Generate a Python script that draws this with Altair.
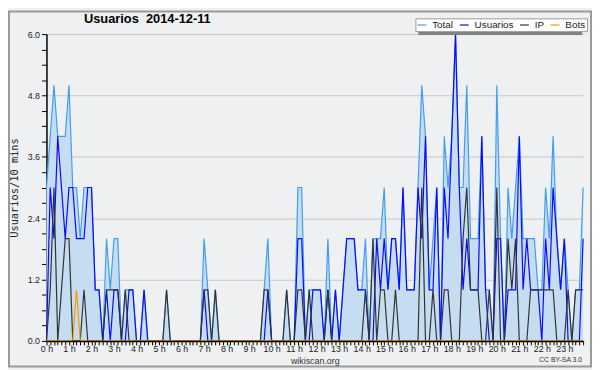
import altair as alt
import pandas as pd

# values per 10-minute slot (144 slots, 0 h .. 23:50)
total = [3, 4, 5, 4, 4, 4, 5, 3, 3, 2,
         3, 3, 3, 1, 1, 0, 2, 1, 2, 2,
         0, 1, 1, 1, 0, 0, 1, 0, 0, 0,
         0, 0, 1, 0, 0, 0, 0, 0, 0, 0,
         0, 0, 2, 1, 0, 1, 0, 0, 0, 0,
         0, 0, 0, 0, 0, 0, 0, 0, 1, 2,
         0, 0, 0, 0, 1, 0, 0, 3, 3, 0,
         1, 1, 1, 1, 0, 2, 0, 1, 0, 1,
         2, 2, 2, 1, 1, 2, 0, 2, 2, 2,
         3, 1, 2, 2, 1, 3, 1, 1, 1, 3,
         5, 4, 1, 2, 3, 0, 4, 3, 4, 6,
         3, 3, 5, 2, 2, 2, 4, 1, 1, 0,
         5, 2, 0, 3, 2, 3, 4, 2, 2, 2,
         2, 1, 1, 3, 2, 4, 2, 1, 2, 1,
         0, 1, 1, 3]
usuarios = [0, 3, 2, 4, 3, 2, 3, 3, 2, 2,
            2, 3, 3, 1, 1, 0, 1, 0, 1, 1,
            0, 0, 1, 1, 0, 0, 1, 0, 0, 0,
            0, 0, 0, 0, 0, 0, 0, 0, 0, 0,
            0, 0, 1, 0, 0, 0, 0, 0, 0, 0,
            0, 0, 0, 0, 0, 0, 0, 0, 0, 1,
            0, 0, 0, 0, 0, 0, 0, 2, 2, 0,
            0, 1, 1, 1, 0, 1, 0, 1, 0, 1,
            2, 2, 2, 1, 1, 1, 0, 0, 2, 1,
            2, 1, 2, 2, 1, 3, 1, 1, 1, 3,
            2, 4, 1, 1, 3, 0, 3, 2, 4, 6,
            3, 1, 2, 1, 1, 1, 4, 1, 0, 0,
            2, 2, 0, 1, 1, 1, 4, 1, 2, 1,
            1, 1, 0, 2, 1, 3, 2, 1, 2, 0,
            0, 0, 0, 2]
ip = [0, 1, 3, 0, 1, 2, 2, 0, 0, 0,
      1, 0, 0, 0, 0, 0, 1, 1, 1, 1,
      0, 1, 0, 0, 0, 0, 0, 0, 0, 0,
      0, 0, 1, 0, 0, 0, 0, 0, 0, 0,
      0, 0, 1, 1, 0, 1, 0, 0, 0, 0,
      0, 0, 0, 0, 0, 0, 0, 0, 1, 1,
      0, 0, 0, 0, 1, 0, 0, 1, 1, 0,
      1, 0, 0, 0, 0, 1, 0, 0, 0, 0,
      0, 0, 0, 0, 0, 1, 0, 2, 0, 1,
      1, 0, 0, 1, 0, 0, 0, 0, 0, 0,
      3, 0, 0, 1, 0, 0, 1, 1, 0, 0,
      0, 2, 3, 1, 1, 1, 0, 0, 1, 0,
      3, 0, 0, 2, 1, 2, 0, 0, 0, 1,
      1, 1, 1, 1, 1, 1, 0, 0, 0, 1,
      0, 1, 1, 1]
bots = [0] * 8 + [1] + [0] * 135

series_names = ["Total", "Usuarios", "IP", "Bots"]
series_colors = ["#3f9ef2", "#0a0aff", "#333333", "#ff9900"]
area_fill = "#c6dcf0"
chart_title = "Usuarios \u00a02014-12-11"

N = len(total)
slot_hours = [i / 6 for i in range(N)]
df = pd.DataFrame({"h": slot_hours, "Total": total, "Usuarios": usuarios,
                   "IP": ip, "Bots": bots})
one = pd.DataFrame({"k": [0]})

W, H = 544, 311
FONT = "Liberation Sans"

xs = alt.Scale(domain=[0, (N - 1) / 6], nice=False, zero=False)
ys = alt.Scale(domain=[0, 6], nice=False)
cs = alt.Scale(domain=series_names, range=series_colors)

x_axis = alt.Axis(
    values=slot_hours,
    labelExpr="abs(datum.value - round(datum.value)) < 0.01 ? round(datum.value) + ' h' : ''",
    labelOverlap=False, labelFlush=False, labelBound=False,
    tickSize=4, tickColor="#000000", tickWidth=1,
    domainColor="#000000", domainWidth=1.5, zindex=1,
    labelFont=FONT, labelFontSize=9, labelColor="#222222", labelPadding=0,
    grid=False, title="wikiscan.org", titleFont=FONT, titleFontSize=9,
    titleFontWeight="normal", titleColor="#333333", titlePadding=3,
)

y_ticks = [round(0.3 * k, 1) for k in range(21)]
major = "abs(datum.value / 1.2 - round(datum.value / 1.2)) < 0.01"
y_axis = alt.Axis(
    values=y_ticks,
    labelExpr=f"{major} ? format(datum.value, '.1f') : ''",
    labelOverlap=False, labelFlush=False, labelBound=False,
    tickSize=5, tickColor="#000000", tickWidth=1,
    domainColor="#000000", domainWidth=1.5,
    labelFont=FONT, labelFontSize=9, labelColor="#222222", labelPadding=2,
    grid=True, gridColor="#c8c8c8", gridWidth=1,
    gridOpacity={"condition": {"test": major, "value": 1}, "value": 0},
    title="Usuarios/10 mins", titleFont="DejaVu Sans Mono", titleFontSize=10.5,
    titleFontWeight="normal", titleColor="#222222",
    titleX=-32, titleY=H / 2, titleBaseline="middle", titleAngle=270,
)

legend = alt.Legend(
    orient="none", legendX=374, legendY=-16, direction="horizontal", title=None,
    symbolType="stroke", symbolSize=81, symbolStrokeWidth=1.2,
    labelFont=FONT, labelFontSize=10, labelColor="#222222", labelOffset=5,
    columnPadding=3, padding=1, fillColor="#ffffff", strokeColor="#999999",
)

X = alt.X("h:Q", scale=xs, axis=x_axis)

area = alt.Chart(df).mark_area(color=area_fill, opacity=1).encode(
    x=X, y=alt.Y("Total:Q", scale=ys, axis=y_axis)
)

lines = []
for name in series_names:
    lines.append(
        alt.Chart(df).transform_calculate(serie=f"'{name}'")
        .mark_line(strokeWidth=1.2).encode(
            x=X,
            y=alt.Y(f"{name}:Q", scale=ys, axis=y_axis),
            color=alt.Color("serie:N", scale=cs, legend=legend),
        )
    )

shadow = alt.Chart(one).mark_rect(color="#808080").encode(
    x=alt.value(377), x2=alt.value(543), y=alt.value(-13), y2=alt.value(1)
)
frame = alt.Chart(one).mark_rect(filled=False, color="#9a9a9a", strokeWidth=2).encode(
    x=alt.value(-38), x2=alt.value(552), y=alt.value(-23), y2=alt.value(337)
)
cc = alt.Chart(one).mark_text(
    text="CC BY-SA 3.0", align="right", baseline="middle", font=FONT,
    fontSize=7, color="#333333"
).encode(x=alt.value(543), y=alt.value(330))
title = alt.Chart(one).mark_text(
    text=chart_title, align="left", baseline="alphabetic", font=FONT,
    fontSize=13, fontWeight="bold", color="#000000"
).encode(x=alt.value(38), y=alt.value(-11))

chart = alt.layer(area, *lines, shadow, frame, cc, title).properties(
    width=W, height=H,
    background="#eff0f1",
    padding={"left": 39, "top": 24, "right": 9, "bottom": 27},
    autosize=alt.AutoSizeParams(type="none"),
).configure_view(strokeWidth=0, fill="#eff0f1")

chart.save("out.html", embed_options={"renderer": "svg", "actions": False})
